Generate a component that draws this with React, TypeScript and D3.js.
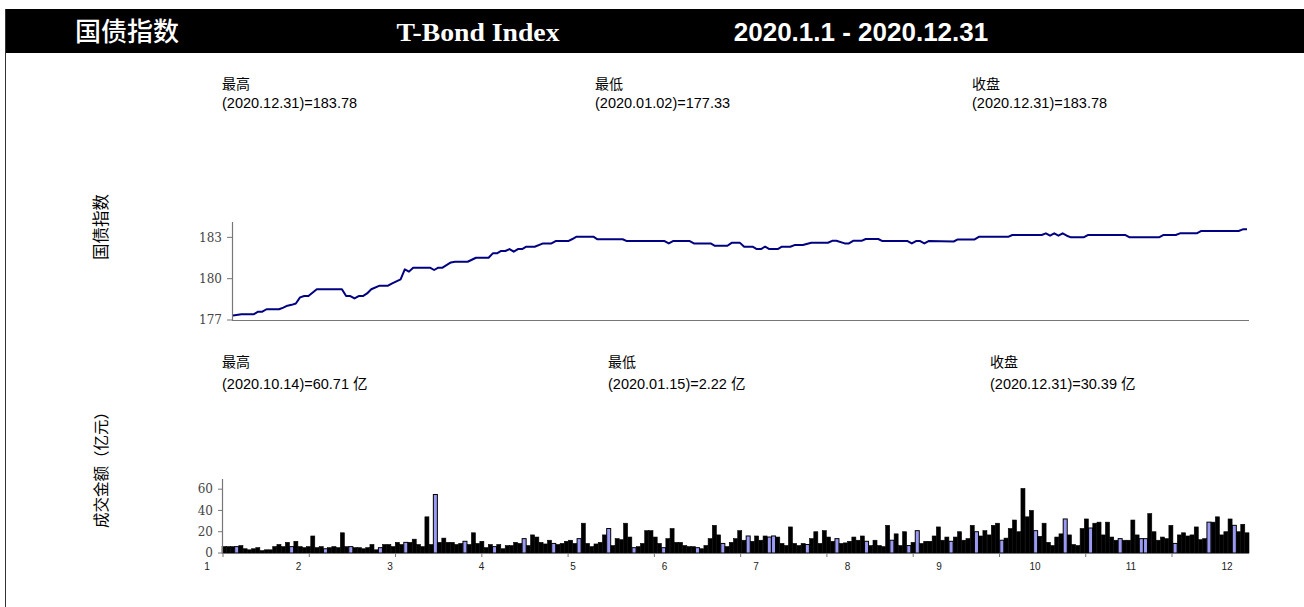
import React from "react";
import * as d3 from "d3";

// ---------- DATA ----------
// Price index polyline: trading-day index -> index value
const lineDays = [0, 2, 5, 6, 7, 8, 11, 12, 13, 14, 15, 16, 17, 18, 20, 26, 27, 28, 29, 30, 31, 32, 33, 35, 37, 38, 40, 41, 42, 43, 47, 48, 49, 50, 52, 53, 56, 58, 61, 62, 63, 64, 65, 66, 67, 68, 69, 70, 72, 74, 76, 77, 80, 81, 82, 86, 87, 93, 94, 103, 104, 105, 109, 110, 114, 115, 118, 119, 121, 122, 124, 125, 126, 127, 128, 130, 131, 133, 134, 136, 138, 142, 143, 144, 146, 147, 148, 150, 151, 154, 155, 161, 162, 163, 164, 165, 166, 172, 173, 177, 178, 185, 186, 193, 194, 195, 196, 197, 198, 199, 200, 203, 204, 213, 214, 221, 222, 225, 226, 230, 231, 240, 241, 242];
const lineValues = [177.33, 177.42, 177.42, 177.6, 177.6, 177.78, 177.78, 177.9, 178.04, 178.1, 178.2, 178.64, 178.74, 178.74, 179.23, 179.23, 178.74, 178.74, 178.57, 178.74, 178.74, 178.93, 179.23, 179.49, 179.49, 179.66, 179.95, 180.68, 180.51, 180.8, 180.8, 180.63, 180.8, 180.8, 181.18, 181.23, 181.23, 181.52, 181.52, 181.84, 181.84, 182.01, 182.01, 182.15, 181.96, 182.15, 182.15, 182.32, 182.32, 182.56, 182.56, 182.73, 182.73, 182.88, 183.05, 183.05, 182.86, 182.86, 182.73, 182.73, 182.56, 182.73, 182.73, 182.56, 182.56, 182.39, 182.39, 182.6, 182.6, 182.32, 182.32, 182.15, 182.15, 182.32, 182.15, 182.15, 182.32, 182.32, 182.44, 182.44, 182.61, 182.61, 182.75, 182.75, 182.56, 182.56, 182.75, 182.75, 182.88, 182.88, 182.73, 182.73, 182.56, 182.73, 182.73, 182.56, 182.73, 182.7, 182.85, 182.85, 183.04, 183.04, 183.17, 183.17, 183.29, 183.12, 183.29, 183.12, 183.29, 183.12, 183.0, 183.0, 183.17, 183.17, 183.0, 183.0, 183.17, 183.17, 183.29, 183.29, 183.46, 183.46, 183.58, 183.58];

// Daily turnover (亿元), 243 trading days
const volumeValues = [
  6, 6, 6, 6, 7, 4, 3, 4, 5, 2.22, 3, 3, 6, 8, 6, 10, 6, 11, 6, 5, 6, 16, 5, 6, 4, 5, 6, 5, 19, 6, 6, 5, 5, 4, 5, 8, 3, 5, 8, 8, 6, 10, 8, 10, 10, 13, 8, 6, 34, 8, 55, 10, 14, 10, 10, 8, 9, 11, 8,
  19, 9, 11, 5, 8, 6, 8, 4, 7, 7, 10, 9, 13.5, 7, 17, 15, 10, 8.5, 12, 9, 8, 9, 11, 12, 9, 13.5, 28, 9, 6, 8.5, 10, 17, 23, 7, 13.5, 12.5, 28, 15, 5, 6, 9, 21, 21, 15, 9, 5, 13.5, 23, 10, 10, 7, 6, 6, 5, 4, 7, 13.5, 26, 17, 9, 6, 10, 13.5,
  21, 12, 16, 11, 16, 12, 16, 15, 16, 15, 9, 7, 24.5, 9, 7, 9, 8, 13.5, 20, 9, 21, 15, 11, 13.5, 9, 9.5, 11, 15, 12, 16, 11, 7, 12, 7, 6, 26, 12, 18, 7, 20, 7, 10, 21, 9, 11, 11, 16, 24.5, 12, 15, 11, 15, 20, 12, 13.5, 26, 20, 16, 21, 17, 26, 28, 12, 14,
  23, 31, 20, 60.71, 34, 40, 21, 15.7, 28, 10, 7, 15, 18, 32, 17, 8, 7, 23, 32, 23.5, 28, 29, 17, 29, 15, 12, 13.5, 12, 12, 31, 17, 13.5, 13.5, 37, 20, 12, 15, 13.5, 26, 9, 17, 19, 16, 17, 24.5, 12.5, 13.5, 29, 29, 34, 17, 20, 32, 26, 20, 27, 19,
];
// trading days drawn with the light-blue fill
const blueDays = [3, 16, 24, 30, 37, 43, 50, 57, 64, 71, 78, 84, 91, 97, 104, 112, 118, 124, 129, 130, 138, 145, 152, 158, 162, 164, 172, 178, 184, 192, 199, 205, 212, 217, 218, 225, 233, 239];

const priceTicks = [177, 180, 183];
const volumeTicks = [0, 20, 40, 60];
const months = [1, 2, 3, 4, 5, 6, 7, 8, 9, 10, 11, 12];

const headerTexts = ["国债指数", "T-Bond Index", "2020.1.1 - 2020.12.31"];
const priceStatLabels = ["最高", "最低", "收盘"];
const priceStatValues = ["(2020.12.31)=183.78", "(2020.01.02)=177.33", "(2020.12.31)=183.78"];
const volumeStatLabels = ["最高", "最低", "收盘"];
const volumeStatValues = ["(2020.10.14)=60.71 亿", "(2020.01.15)=2.22 亿", "(2020.12.31)=30.39 亿"];
const axisTitles = ["国债指数", "成交金额（亿元）"];

const CJK = "'Noto Sans CJK SC', 'Liberation Sans', Arial, sans-serif";
const SANS = "'Liberation Sans', Arial, 'Noto Sans CJK SC', sans-serif";
const SERIF_TICK = "'DejaVu Serif', serif";

export default function App() {
  const W = 1304;
  const H = 607;

  // price chart scales
  const px = d3.scaleLinear().domain([0, volumeValues.length - 1]).range([233, 1247]);
  const py = d3.scaleLinear().domain([177, 184.1]).range([320, 222.2]);
  const linePts = lineDays.map((d, i) => ({ d, v: lineValues[i] }));
  const linePath = d3
    .line<{ d: number; v: number }>()
    .x((p) => px(p.d))
    .y((p) => py(p.v))(linePts);

  // volume chart scales
  const bx = d3
    .scaleBand<number>()
    .domain(d3.range(volumeValues.length))
    .range([222, 1249])
    .paddingInner(0.05);
  const by = d3.scaleLinear().domain([0, 69]).range([553, 479.6]);
  const tickX = d3.scaleLinear().domain([1, 12]).range([223, 1172]);
  const labelX = d3.scaleLinear().domain([1, 9, 12]).range([207, 939, 1227]);
  const blueSet = new Set(blueDays);

  const priceStatX = [222, 595, 972];
  const volumeStatX = [222, 608, 990];
  const headerX = [127, 478, 861];

  return (
    <svg
      width={W}
      height={H}
      style={{ position: "absolute", left: 0, top: 0, background: "#fff" }}
    >
      {/* header band */}
      <rect x={5} y={9} width={W - 5} height={44} fill="#000" />
      <line x1={5.5} x2={5.5} y1={9} y2={H} stroke="#333" strokeWidth={1} />
      <text x={headerX[0]} y={41} fill="#fff" fontFamily={CJK} fontSize={26} fontWeight={500} textAnchor="middle">
        {headerTexts[0]}
      </text>
      <text
        x={headerX[1]}
        y={41}
        fill="#fff"
        fontFamily="'Liberation Serif', 'Times New Roman', serif"
        fontSize={26}
        fontWeight={700}
        textAnchor="middle"
        textLength={163}
        lengthAdjust="spacingAndGlyphs"
      >
        {headerTexts[1]}
      </text>
      <text x={headerX[2]} y={41} fill="#fff" fontFamily={SANS} fontSize={26} fontWeight={700} textAnchor="middle">
        {headerTexts[2]}
      </text>

      {/* price stats */}
      {priceStatLabels.map((l, i) => (
        <g key={"ps" + i}>
          <text x={priceStatX[i]} y={89} fontFamily={CJK} fontSize={14} fill="#000">{l}</text>
          <text x={priceStatX[i]} y={108} fontFamily={SANS} fontSize={14.5} fill="#000">{priceStatValues[i]}</text>
        </g>
      ))}

      {/* axis titles */}
      <text
        transform="translate(100,227) rotate(-90)"
        textAnchor="middle"
        dominantBaseline="central"
        fontFamily={CJK}
        fontSize={16.5}
        fill="#000"
      >
        {axisTitles[0]}
      </text>
      <text
        transform="translate(100,466) rotate(-90)"
        textAnchor="middle"
        dominantBaseline="central"
        fontFamily={CJK}
        fontSize={15.5}
        fill="#000"
      >
        {axisTitles[1]}
      </text>

      {/* price chart axes */}
      <line x1={232.5} x2={232.5} y1={222} y2={320.5} stroke="#777" strokeWidth={1.2} />
      <line x1={232} x2={1249} y1={320.5} y2={320.5} stroke="#777" strokeWidth={1.2} />
      {priceTicks.map((t) => (
        <g key={"pt" + t}>
          <line x1={227} x2={232.5} y1={py(t)} y2={py(t)} stroke="#777" strokeWidth={1} />
          <text x={222} y={py(t)} dy="0.36em" textAnchor="end" fontFamily={SERIF_TICK} fontSize={12} fill="#444">
            {t}
          </text>
        </g>
      ))}
      <path d={linePath || ""} fill="none" stroke="#000080" strokeWidth={2} strokeLinejoin="round" />

      {/* volume stats */}
      {volumeStatLabels.map((l, i) => (
        <g key={"vs" + i}>
          <text x={volumeStatX[i]} y={367} fontFamily={CJK} fontSize={14} fill="#000">{l}</text>
          <text x={volumeStatX[i]} y={389} fontFamily={SANS} fontSize={14.5} fill="#000">{volumeStatValues[i]}</text>
        </g>
      ))}

      {/* volume bars */}
      {volumeValues.map((v, i) => {
        const x0 = bx(i) as number;
        const blue = blueSet.has(i);
        return (
          <rect
            key={"b" + i}
            x={x0}
            y={by(v)}
            width={bx.bandwidth()}
            height={by(0) - by(v)}
            fill={blue ? "#9a9af5" : "#000"}
            stroke="#000"
            strokeWidth={blue ? 1 : 0.6}
          />
        );
      })}

      {/* volume axes */}
      <line x1={222.5} x2={222.5} y1={479} y2={553.5} stroke="#777" strokeWidth={1.2} />
      <line x1={222} x2={1249} y1={553.5} y2={553.5} stroke="#777" strokeWidth={1.2} />
      {volumeTicks.map((t) => (
        <g key={"vt" + t}>
          <line x1={218} x2={222.5} y1={by(t)} y2={by(t)} stroke="#777" strokeWidth={1} />
          <text x={213} y={by(t)} dy="0.36em" textAnchor="end" fontFamily={SERIF_TICK} fontSize={12} fill="#444">
            {t}
          </text>
        </g>
      ))}
      {months.map((m) => (
        <g key={"m" + m}>
          <line x1={tickX(m)} x2={tickX(m)} y1={553.5} y2={557} stroke="#777" strokeWidth={1} />
          <text x={labelX(m)} y={570} textAnchor="middle" fontFamily={SANS} fontSize={10} fill="#222">
            {m}
          </text>
        </g>
      ))}
    </svg>
  );
}
